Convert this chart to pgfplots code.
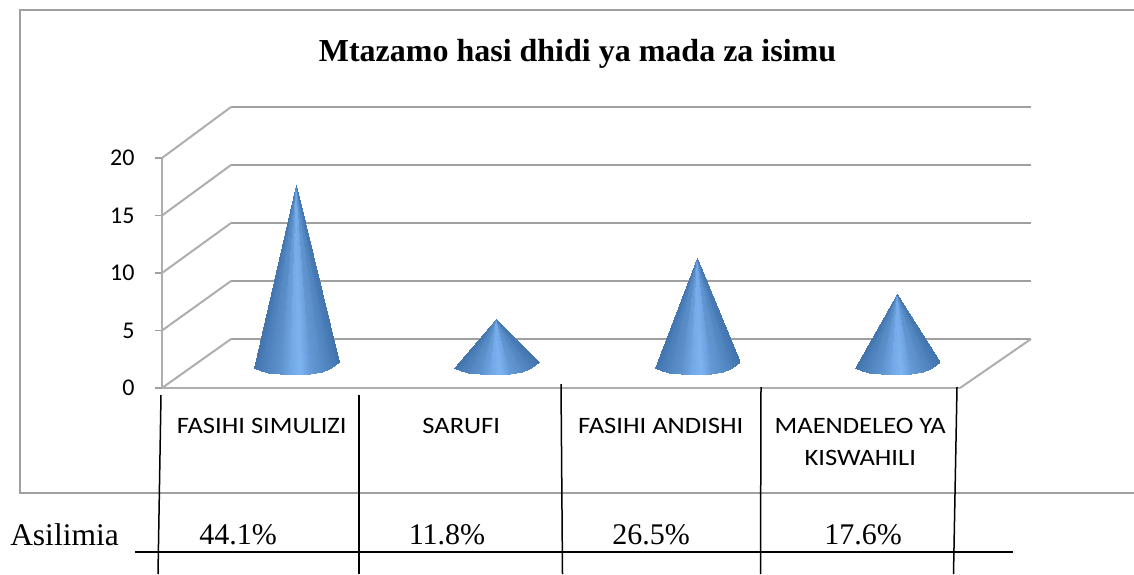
\documentclass[border=0pt]{standalone}
\usepackage{fontspec}
\setmainfont{Liberation Serif}
\newfontfamily\calfont{Carlito}
\usepackage{pgfplots}
\pgfplotsset{compat=1.18}
\definecolor{gridc}{HTML}{A0A0A0}
\definecolor{framec}{HTML}{A0A0A0}
\pgfplotsset{
  pix/.style={at={(0pt,0pt)},anchor=south west,width=1134pt,height=574pt,scale only axis,
    xmin=0,xmax=1134,ymin=0,ymax=574,y dir=reverse,hide axis,clip=false},
  cone/.style={patch,patch type=triangle,shader=interp,point meta=explicit,forget plot}
}
\begin{document}
\begin{tikzpicture}[x=1pt,y=1pt]
\useasboundingbox (0,0) rectangle (1134,574);
% frame, walls and floor
\begin{axis}[pix]
\addplot[framec,line width=2pt,no markers] coordinates {(1134,493) (20,493) (20,10) (1134,10)};
\addplot[gridc,line width=2.2pt,no markers] coordinates {(231,107) (1031,107)};
\addplot[gridc,line width=2.2pt,no markers] coordinates {(231,165) (1031,165)};
\addplot[gridc,line width=2.2pt,no markers] coordinates {(231,223) (1031,223)};
\addplot[gridc,line width=2.2pt,no markers] coordinates {(231,281) (1031,281)};
\addplot[gridc,line width=2.2pt,no markers] coordinates {(231,339) (1031,339)};
\addplot[gridc!85,line width=2pt,no markers] coordinates {(162,158) (231,107)};
\addplot[gridc!85,line width=2pt,no markers] coordinates {(162,215.5) (231,165)};
\addplot[gridc!85,line width=2pt,no markers] coordinates {(162,273) (231,223)};
\addplot[gridc!85,line width=2pt,no markers] coordinates {(162,330.5) (231,281)};
\addplot[gridc!85,line width=2pt,no markers] coordinates {(162,388) (231,339)};
\addplot[gridc!85,line width=2pt,no markers] coordinates {(960,388) (1031,339)};
\node[font=\bfseries\fontsize{32}{34}\selectfont,anchor=center] at (577.5,54) {Mtazamo hasi dhidi ya mada za isimu};
\end{axis}
% value axis and categories
\begin{axis}[at={(162pt,186pt)},anchor=south west,width=798pt,height=230pt,scale only axis,
  xmin=0,xmax=4,ymin=0,ymax=20,
  axis x line*=bottom,axis y line*=left,axis line style={gridc!85,line width=2.4pt,-},
  xtick={0.5,1.5,2.5,3.5},
  xticklabels={FASIHI SIMULIZI,SARUFI,FASIHI ANDISHI,{MAENDELEO YA\\KISWAHILI}},
  minor xtick={0,1,2,3,4},
  ytick={0,5,10,15,20},
  major tick length=0pt,
  xtick style={draw=none},
  minor x tick style={gridc,line width=1.6pt},
  minor tick length=8pt,
  tick align=outside,
  ytick style={gridc,line width=1.6pt,/pgfplots/major tick length=7pt},
  xticklabel style={font=\calfont\fontsize{23.5}{32}\selectfont,align=center,anchor=north,yshift=-27pt,xscale=1.13},
  yticklabel style={font=\calfont\fontsize{24}{26}\selectfont,xshift=-24pt},
  /pgf/number format/assume math mode=true,
]
\end{axis}
% cones: x = category 0..3, y = value, tip at the value; c = shade
\begin{axis}[at={(0pt,0pt)},anchor=south west,width=1134pt,height=574pt,scale only axis,
  xmin=-1.4778,xmax=4.1837,ymin=-17.107,ymax=30.33,hide axis,clip=false,
  colormap={conec}{rgb255(0cm)=(61,111,168); rgb255(1cm)=(125,180,242)},
  point meta min=0,point meta max=1]
\addplot[cone] table[meta=c] {
x y c
0 15 0.135
-0.21 -0.08 0.05
-0.175 -0.37 0.22
0 15 0.275
-0.175 -0.37 0.22
-0.14 -0.50 0.33
0 15 0.425
-0.14 -0.50 0.33
-0.08 -0.61 0.52
0 15 0.66
-0.08 -0.61 0.52
-0.03 -0.65 0.80
0 15 0.9
-0.03 -0.65 0.80
0.02 -0.65 1.0
0 15 0.81
0.02 -0.65 1.0
0.07 -0.58 0.62
0 15 0.52
0.07 -0.58 0.62
0.13 -0.38 0.42
0 15 0.335
0.13 -0.38 0.42
0.175 -0.10 0.25
0 15 0.15
0.175 -0.10 0.25
0.215 0.41 0.05
};
\addplot[cone] table[meta=c] {
x y c
1 4 0.135
0.79 -0.08 0.05
0.825 -0.37 0.22
1 4 0.275
0.825 -0.37 0.22
0.86 -0.50 0.33
1 4 0.425
0.86 -0.50 0.33
0.92 -0.61 0.52
1 4 0.66
0.92 -0.61 0.52
0.97 -0.65 0.80
1 4 0.9
0.97 -0.65 0.80
1.02 -0.65 1.0
1 4 0.81
1.02 -0.65 1.0
1.07 -0.58 0.62
1 4 0.52
1.07 -0.58 0.62
1.13 -0.38 0.42
1 4 0.335
1.13 -0.38 0.42
1.175 -0.10 0.25
1 4 0.15
1.175 -0.10 0.25
1.215 0.41 0.05
};
\addplot[cone] table[meta=c] {
x y c
2 9 0.135
1.79 -0.08 0.05
1.825 -0.37 0.22
2 9 0.275
1.825 -0.37 0.22
1.86 -0.50 0.33
2 9 0.425
1.86 -0.50 0.33
1.92 -0.61 0.52
2 9 0.66
1.92 -0.61 0.52
1.97 -0.65 0.80
2 9 0.9
1.97 -0.65 0.80
2.02 -0.65 1.0
2 9 0.81
2.02 -0.65 1.0
2.07 -0.58 0.62
2 9 0.52
2.07 -0.58 0.62
2.13 -0.38 0.42
2 9 0.335
2.13 -0.38 0.42
2.175 -0.10 0.25
2 9 0.15
2.175 -0.10 0.25
2.215 0.41 0.05
};
\addplot[cone] table[meta=c] {
x y c
3 6 0.135
2.79 -0.08 0.05
2.825 -0.37 0.22
3 6 0.275
2.825 -0.37 0.22
2.86 -0.50 0.33
3 6 0.425
2.86 -0.50 0.33
2.92 -0.61 0.52
3 6 0.66
2.92 -0.61 0.52
2.97 -0.65 0.80
3 6 0.9
2.97 -0.65 0.80
3.02 -0.65 1.0
3 6 0.81
3.02 -0.65 1.0
3.07 -0.58 0.62
3 6 0.52
3.07 -0.58 0.62
3.13 -0.38 0.42
3 6 0.335
3.13 -0.38 0.42
3.175 -0.10 0.25
3 6 0.15
3.175 -0.10 0.25
3.215 0.41 0.05
};
\end{axis}
% table lines drawn over the chart, and the percentages
\begin{axis}[pix]
\addplot[black,line width=1.5pt,no markers] coordinates {(135,552) (1013,552)};
\addplot[black,line width=1.5pt,no markers] coordinates {(161,395) (158,574)};
\addplot[black,line width=1.5pt,no markers] coordinates {(359,395) (359,574)};
\addplot[black,line width=1.5pt,no markers] coordinates {(561,384) (562.5,574)};
\addplot[black,line width=1.5pt,no markers] coordinates {(761,387) (760.5,574)};
\addplot[black,line width=1.5pt,no markers] coordinates {(957,387) (953.5,574)};
\node[font=\fontsize{31.5}{33}\selectfont,anchor=center] at (64.5,535) {Asilimia};
\node[font=\fontsize{30}{32}\selectfont,anchor=center] at (238,535) {44.1\%};
\node[font=\fontsize{30}{32}\selectfont,anchor=center] at (447,535) {11.8\%};
\node[font=\fontsize{30}{32}\selectfont,anchor=center] at (651,535) {26.5\%};
\node[font=\fontsize{30}{32}\selectfont,anchor=center] at (863,535) {17.6\%};
\end{axis}
\end{tikzpicture}
\end{document}
